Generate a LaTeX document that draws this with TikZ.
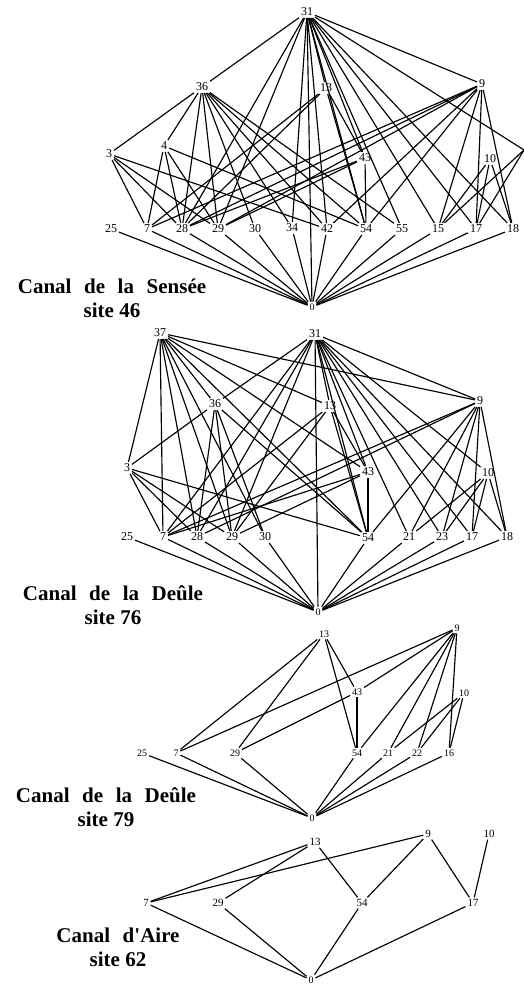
\documentclass[tikz,border=0pt]{standalone}
\usepackage{fontspec}
\setmainfont{Liberation Serif}
\begin{document}
\begin{tikzpicture}[x=1pt,y=-1pt,
  lab/.style={inner sep=1.4pt,font=\fontsize{12}{12}\selectfont},
  labs/.style={inner sep=1.4pt,font=\fontsize{10}{10}\selectfont},
  labm/.style={inner sep=1.4pt,font=\fontsize{11}{11}\selectfont},
  ttl/.style={align=center,inner sep=0pt,font=\bfseries\fontsize{21}{24}\selectfont},
  every path/.style={line width=1.15pt}]
\useasboundingbox (0,0) rectangle (523,984);

% ---------------- Graph 1 : Sensee 46
\node[lab] (a31) at (307,12) {31};
\node[lab] (a36) at (202,87) {36};
\node[lab] (a13) at (326,88) {13};
\node[lab] (a9) at (482,84) {9};
\node[lab] (a4) at (164,146) {4};
\node[lab] (a3) at (109,154) {3};
\node[lab] (a43) at (365,158) {43};
\node[lab] (a10) at (490,159) {10};
\coordinate (aN) at (524,150);
\node[lab] (a25) at (111,229) {25};
\node[lab] (a7) at (147,229) {7};
\node[lab] (a28) at (182,229) {28};
\node[lab] (a29) at (218,229) {29};
\node[lab] (a30) at (255,229) {30};
\node[lab] (a34) at (292,228) {34};
\node[lab] (a42) at (327,229) {42};
\node[lab] (a54) at (366,229) {54};
\node[lab] (a55) at (402,229) {55};
\node[lab] (a15) at (438,229) {15};
\node[lab] (a17) at (476,229) {17};
\node[lab] (a18) at (513,229) {18};
\node[labs] (a0) at (312,307) {0};
\foreach \u/\v in {a31/a36,a31/a28,a31/a29,a31/a34,a31/a0,a31/a42,a31/a13,a31/a43,a31/a54,a31/a55,a31/a15,a31/a17,a31/a18,a31/a9,a31/aN,
  a36/a3,a36/a4,a36/a28,a36/a29,a36/a30,a36/a34,a36/a42,a36/a54,a36/a55,
  a4/a7,a4/a28,a4/a29,a4/a54,
  a3/a7,a3/a28,a3/a29,a3/a42,
  a13/a7,a13/a28,a13/a43,a13/a54,
  a9/a7,a9/a28,a9/a29,a9/a42,a9/a54,a9/a15,a9/a17,a9/a18,
  a43/a28,a43/a29,a43/a54,
  a10/a15,a10/a17,a10/a18,aN/a15,aN/a17,
  a25/a0,a7/a0,a28/a0,a29/a0,a30/a0,a34/a0,a42/a0,a54/a0,a55/a0,a15/a0,a17/a0,a18/a0}
  \draw (\u) -- (\v);
\node[ttl] (t1) at (112,298) {\spaceskip=0.6em Canal de la Sensée\\site 46};

% ---------------- Graph 2 : Deule 76
\node[lab] (b37) at (160,333) {37};
\node[lab] (b31) at (315,334) {31};
\node[lab] (b36) at (215,404) {36};
\node[lab] (b13) at (330,406) {13};
\node[lab] (b9) at (480,401) {9};
\node[lab] (b3) at (127,468) {3};
\node[lab] (b43) at (368,472) {43};
\node[lab] (b10) at (488,473) {10};
\node[lab] (b25) at (127,537) {25};
\node[lab] (b7) at (163,537) {7};
\node[lab] (b28) at (197,537) {28};
\node[lab] (b29) at (232,537) {29};
\node[lab] (b30) at (265,537) {30};
\node[lab] (b54) at (368,538) {54};
\node[lab] (b21) at (409,537) {21};
\node[lab] (b23) at (442,537) {23};
\node[lab] (b17) at (472,537) {17};
\node[lab] (b18) at (507,537) {18};
\node[labs] (b0) at (318,612) {0};
\foreach \u/\v in {b37/b3,b37/b7,b37/b28,b37/b29,b37/b36,b37/b30,b37/b54,b37/b43,b37/b13,b37/b9,
  b31/b36,b31/b7,b31/b28,b31/b29,b31/b0,b31/b13,b31/b43,b31/b54,b31/b21,b31/b23,b31/b17,b31/b18,b31/b9,b31/b10,
  b36/b3,b36/b28,b36/b29,b36/b30,b36/b54,
  b13/b7,b13/b29,b13/b43,b13/b54,
  b9/b7,b9/b28,b9/b54,b9/b21,b9/b23,b9/b17,b9/b18,
  b43/b7,b43/b29,b43/b54,
  b3/b7,b3/b28,b3/b29,b3/b54,
  b10/b21,b10/b23,b10/b17,b10/b18,
  b25/b0,b7/b0,b28/b0,b29/b0,b30/b0,b54/b0,b21/b0,b23/b0,b17/b0,b18/b0}
  \draw (\u) -- (\v);
\node[ttl] (t2) at (113,605) {\spaceskip=0.6em Canal de la Deûle\\site 76};

% ---------------- Graph 3 : Deule 79
\node[labs] (c13) at (324,634) {13};
\node[labs] (c9) at (457,628) {9};
\node[labs] (c43) at (357,692) {43};
\node[labs] (c10) at (464,693) {10};
\node[labs] (c25) at (142,753) {25};
\node[labs] (c7) at (176,753) {7};
\node[labs] (c29) at (235,753) {29};
\node[labs] (c54) at (357,753) {54};
\node[labs] (c21) at (388,753) {21};
\node[labs] (c22) at (417,753) {22};
\node[labs] (c16) at (449,753) {16};
\node[labs] (c0) at (312,818) {0};
\foreach \u/\v in {c13/c7,c13/c29,c13/c43,c13/c54,
  c9/c7,c9/c43,c9/c54,c9/c21,c9/c22,c9/c16,
  c43/c29,c43/c54,c10/c21,c10/c22,c10/c16,
  c25/c0,c7/c0,c29/c0,c54/c0,c21/c0,c22/c0,c16/c0}
  \draw (\u) -- (\v);
\node[ttl] (t3) at (106,807) {\spaceskip=0.6em Canal de la Deûle\\site 79};

% ---------------- Graph 4 : Aire 62
\node[labm] (d13) at (315,842) {13};
\node[labm] (d9) at (428,834) {9};
\node[labm] (d10) at (489,834) {10};
\node[labm] (d7) at (146,903) {7};
\node[labm] (d29) at (218,903) {29};
\node[labm] (d54) at (362,903) {54};
\node[labm] (d17) at (473,903) {17};
\node[labs] (d0) at (311,980) {0};
\foreach \u/\v in {d13/d7,d13/d29,d13/d54,d9/d7,d9/d54,d9/d17,d10/d17,
  d7/d0,d29/d0,d54/d0,d17/d0}
  \draw (\u) -- (\v);
\node[ttl] (t4) at (118,947) {\spaceskip=0.6em Canal d\textquotesingle Aire\\site 62};
\end{tikzpicture}
\end{document}
